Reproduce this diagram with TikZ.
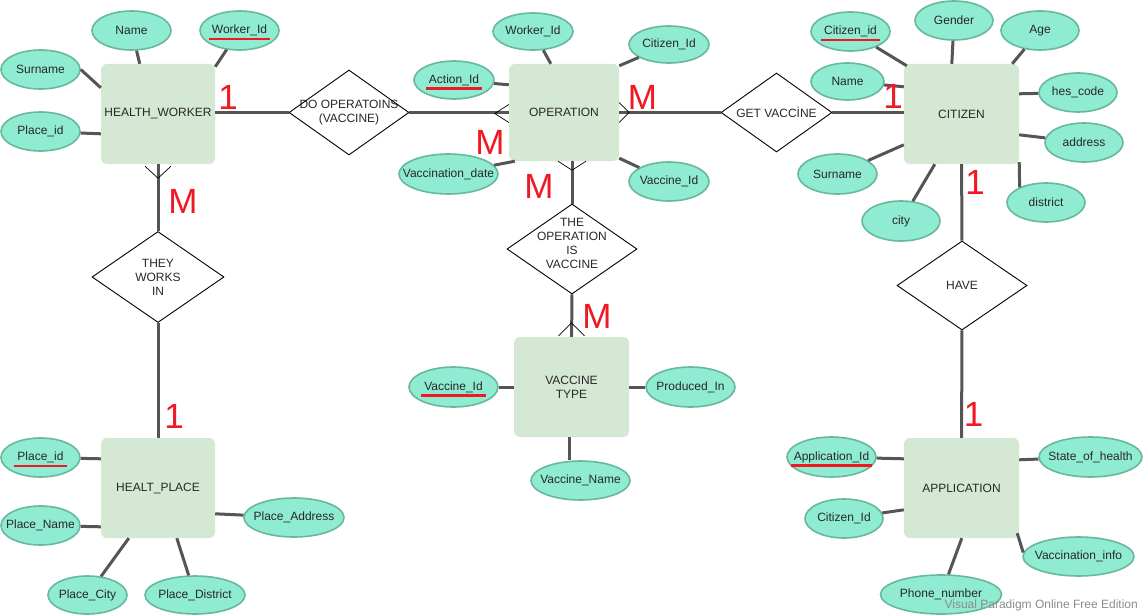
\documentclass[tikz,border=0pt]{standalone}
\usepackage{fontspec}
\setmainfont{Liberation Sans}
\usetikzlibrary{shapes.geometric,calc}
\definecolor{entfill}{RGB}{213,232,212}
\definecolor{attfill}{RGB}{143,235,209}
\definecolor{attline}{RGB}{104,184,154}
\definecolor{connc}{RGB}{85,85,85}
\definecolor{keyred}{RGB}{240,25,35}
\definecolor{txtc}{RGB}{40,40,40}
\definecolor{wmc}{RGB}{140,140,140}
\newsavebox\pkbox
\newcommand{\pkey}[1]{\sbox\pkbox{#1}\rlap{\hspace{-3pt}\raisebox{-6.6pt}[0pt][0pt]{\color{keyred}\rule{\dimexpr\wd\pkbox+6pt\relax}{2.4pt}}}\usebox\pkbox}
\newcommand{\zw}[1]{\makebox[0pt][c]{#1}}
\tikzset{
  ent/.style={rectangle, rounded corners=6pt, fill=entfill, draw=none, minimum width=114pt, minimum height=100pt, inner sep=0pt, align=center, font=\fontsize{12}{14}\selectfont, text=txtc},
  att/.style={ellipse, fill=attfill, draw=attline, line width=1.6pt, inner sep=0pt, minimum height=39pt, font=\fontsize{12}{14}\selectfont, text=txtc},
  rel/.style={diamond, draw=black, line width=0.9pt, fill=white, inner sep=0pt},
  lbl/.style={align=center, font=\fontsize{12}{14}\selectfont, text=txtc, inner sep=0pt},
  cn/.style={draw=connc, line width=3pt},
  crow/.style={draw=black, line width=0.7pt},
  card/.style={text=keyred, font=\fontsize{35}{35}\selectfont, inner sep=0pt}
}
\begin{document}
\begin{tikzpicture}[x=1pt,y=-1pt]
\path[fill=white] (0,0) rectangle (1143,615);
\useasboundingbox (0,0) rectangle (1143,615);

% entities
\node[ent] (hw) at (158,114) {HEALTH\_WORKER};
\node[ent, minimum width=110pt, minimum height=97pt] (op) at (564,112.5) {OPERATION};
\node[ent, minimum width=115pt] (cit) at (961.5,114) {CITIZEN};
\node[ent] (hp) at (158,488) {HEALT\_PLACE};
\node[ent, minimum width=115pt] (vt) at (571.5,387) {VACCINE\\TYPE};
\node[ent, minimum width=115pt] (app) at (961.5,488) {APPLICATION};

% relationships
\node[rel, minimum width=120pt, minimum height=85pt, label={[lbl]center:{DO OPERATOINS\\(VACCINE)}}] (r1) at (349,112.5) {};
\node[rel, minimum width=132pt, minimum height=91pt, label={[lbl]center:{THEY\\WORKS\\IN}}] (r2) at (158,277) {};
\node[rel, minimum width=130pt, minimum height=90pt, label={[lbl,yshift=6pt]center:{THE\\OPERATION\\IS\\VACCINE}}] (r3) at (572,249) {};
\node[rel, minimum width=111pt, minimum height=79pt, label={[lbl]center:{GET VACCİNE}}] (r4) at (776.5,112.5) {};
\node[rel, minimum width=130pt, minimum height=89pt, label={[lbl]center:{HAVE}}] (r5) at (962,285.5) {};

% attributes
\node[att, minimum width=79pt] (hwname) at (131.5,30.5) {\zw{Name}};
\node[att, minimum width=79pt] (hwid) at (239.5,30.5) {\zw{\pkey{Worker\_Id}}};
\node[att, minimum width=79pt] (hwsur) at (40.5,69.5) {\zw{Surname}};
\node[att, minimum width=79pt] (hwpid) at (40.5,131.5) {\zw{Place\_id}};

\node[att, minimum width=79pt] (hppid) at (40.5,457.5) {\zw{\pkey{Place\_id}}};
\node[att, minimum width=79pt] (hpname) at (40.5,525.5) {\zw{Place\_Name}};
\node[att, minimum width=79pt, minimum height=38pt] (hpcity) at (87.5,595) {\zw{Place\_City}};
\node[att, minimum width=100pt, minimum height=38pt] (hpdist) at (195,595) {\zw{Place\_District}};
\node[att, minimum width=100pt] (hpaddr) at (294,517.5) {\zw{Place\_Address}};

\node[att, minimum width=80pt, minimum height=37pt] (opwid) at (533,31.5) {\zw{Worker\_Id}};
\node[att, minimum width=80pt, minimum height=37pt] (opcid) at (669,44.5) {\zw{Citizen\_Id}};
\node[att, minimum width=80pt, minimum height=38pt] (opaid) at (454,80) {\zw{\pkey{Action\_Id}}};
\node[att, minimum width=99pt, minimum height=40pt] (opvd) at (448.5,174) {\zw{Vaccination\_date}};
\node[att, minimum width=80pt] (opvid) at (669,181.5) {\zw{Vaccine\_Id}};

\node[att, minimum width=89pt, minimum height=40pt] (vtid) at (453.5,387) {\zw{\pkey{Vaccine\_Id}}};
\node[att, minimum width=89pt, minimum height=40pt] (vtprod) at (690.5,387) {\zw{Produced\_In}};
\node[att, minimum width=99pt] (vtname) at (580.5,480.5) {\zw{Vaccine\_Name}};

\node[att, minimum width=79pt] (cid) at (850.5,31.5) {\zw{\pkey{Citizen\_id}}};
\node[att, minimum width=78pt] (cgen) at (954,20.5) {\zw{Gender}};
\node[att, minimum width=78pt] (cage) at (1040,30.5) {\zw{Age}};
\node[att, minimum width=73pt, minimum height=37pt] (cname) at (847.5,81.5) {\zw{Name}};
\node[att, minimum width=78pt] (ches) at (1078,92.5) {\zw{hes\_code}};
\node[att, minimum width=78pt] (caddr) at (1084,142.5) {\zw{address}};
\node[att, minimum width=78pt] (cdist) at (1046,202.5) {\zw{district}};
\node[att, minimum width=79pt, minimum height=40pt] (csur) at (837.5,174) {\zw{Surname}};
\node[att, minimum width=78pt, minimum height=40pt] (ccity) at (901,221) {\zw{city}};

\node[att, minimum width=89pt, minimum height=40pt] (apid) at (831.5,457) {\zw{\pkey{Application\_Id}}};
\node[att, minimum width=103pt, minimum height=40pt] (apstate) at (1090.5,457) {\zw{State\_of\_health}};
\node[att, minimum width=78pt] (apcid) at (844,518.5) {\zw{Citizen\_Id}};
\node[att, minimum width=111pt] (apvinfo) at (1078.5,556.5) {\zw{Vaccination\_info}};
\node[att, minimum width=121pt] (apphone) at (941,594.5) {\zw{Phone\_number}};

% attribute connectors
\draw[cn] (hwname) -- ($(hw.north west)+(39,0)$);
\draw[cn] (hwid) -- ($(hw.north east)+(0,3)$);
\draw[cn] (hwsur.east) -- ($(hw.north west)+(0,24)$);
\draw[cn] (hwpid) -- ($(hw.north west)+(0,70)$);

\draw[cn] (hppid) -- ($(hp.north west)+(0,21)$);
\draw[cn] (hpname) -- ($(hp.north west)+(0,89)$);
\draw[cn] (hpcity) -- ($(hp.south west)+(28,0)$);
\draw[cn] (hpdist) -- ($(hp.south west)+(76,0)$);
\draw[cn] (hpaddr) -- ($(hp.north east)+(0,76)$);

\draw[cn] (opwid) -- ($(op.north west)+(42,0)$);
\draw[cn] (opcid) -- ($(op.north east)+(0,2)$);
\draw[cn] (opaid) -- ($(op.north west)+(0,21)$);
\draw[cn] (opvd) -- ($(op.south west)+(6,0)$);
\draw[cn] (opvid) -- ($(op.south east)+(0,-3)$);

\draw[cn] (vtid) -- (vtid -| vt.west);
\draw[cn] (vtprod) -- (vtprod -| vt.east);
\draw[cn] ($(vtname.north)+(-11,0)$) -- ($(vt.south)+(-2,0)$);

\draw[cn] (cid) -- ($(cit.north west)+(3,2)$);
\draw[cn] (cgen) -- ($(cit.north west)+(48,0)$);
\draw[cn] (cage) -- ($(cit.north east)+(-7,0)$);
\draw[cn] (cname) -- ($(cit.north west)+(0,23)$);
\draw[cn] (ches) -- ($(cit.north east)+(0,30)$);
\draw[cn] (caddr) -- ($(cit.north east)+(0,71)$);
\draw[cn] (cdist.150) -- ($(cit.south east)+(0,-2)$);
\draw[cn] (csur) -- ($(cit.north west)+(0,81)$);
\draw[cn] (ccity) -- ($(cit.south west)+(31,0)$);

\draw[cn] (apid) -- ($(app.north west)+(0,21)$);
\draw[cn] (apstate) -- ($(app.north east)+(0,22)$);
\draw[cn] (apcid) -- ($(app.north west)+(0,72)$);
\draw[cn] ($(apvinfo.west)+(1,-4)$) -- ($(app.south east)+(-2,-5)$);
\draw[cn] (apphone) -- ($(app.south west)+(58,0)$);

% relationship connectors
\draw[cn] (r1.west -| hw.east) -- (r1.west);
\draw[cn] (r1) -- (op);
\draw[cn] (op) -- (r4);
\draw[cn] (r4.east) -- (r4.east -| cit.west);
\draw[cn] (hw) -- (r2);
\draw[cn] (r2) -- (hp);
\draw[cn] (r3.north |- op.south) -- (r3.north);
\draw[cn] (r3) -- (vt);
\draw[cn] (cit) -- (r5);
\draw[cn] (r5) -- (app);

% crow's feet
\draw[crow] ($(hw.south)+(-13,2)$) -- ($(hw.south)+(0,14)$) -- ($(hw.south)+(13,2)$);
\draw[crow] ($(op.west)+(0,-8)$) -- ($(op.west)+(-14,1)$) -- ($(op.west)+(0,10)$);
\draw[crow] ($(op.east)+(0,-10)$) -- ($(op.east)+(10,0)$) -- ($(op.east)+(0,10)$);
\draw[crow] ($(r3.north |- op.south)+(-14,0)$) -- ($(r3.north |- op.south)+(0,9)$) -- ($(r3.north |- op.south)+(14,0)$);
\draw[crow] ($(vt.north)+(-13,-1)$) -- ($(vt.north)+(0,-14)$) -- ($(vt.north)+(13,-1)$);

% cardinalities
\node[card] (c1) at (228,97) {1};
\node[card] (c2) at (183,201) {M};
\node[card] (c3) at (174,416.5) {1};
\node[card] (c4) at (490,142) {M};
\node[card] (c5) at (642.5,97) {M};
\node[card] (c6) at (539,186) {M};
\node[card] (c7) at (597,316) {M};
\node[card] (c8) at (893,96) {1};
\node[card] (c9) at (975,182.5) {1};
\node[card] (c10) at (973.5,414.5) {1};

% watermark
\node[anchor=east, text=wmc, font=\fontsize{12}{14}\selectfont, inner sep=0pt] (wm) at (1138,605) {Visual Paradigm Online Free Edition};
\end{tikzpicture}
\end{document}
